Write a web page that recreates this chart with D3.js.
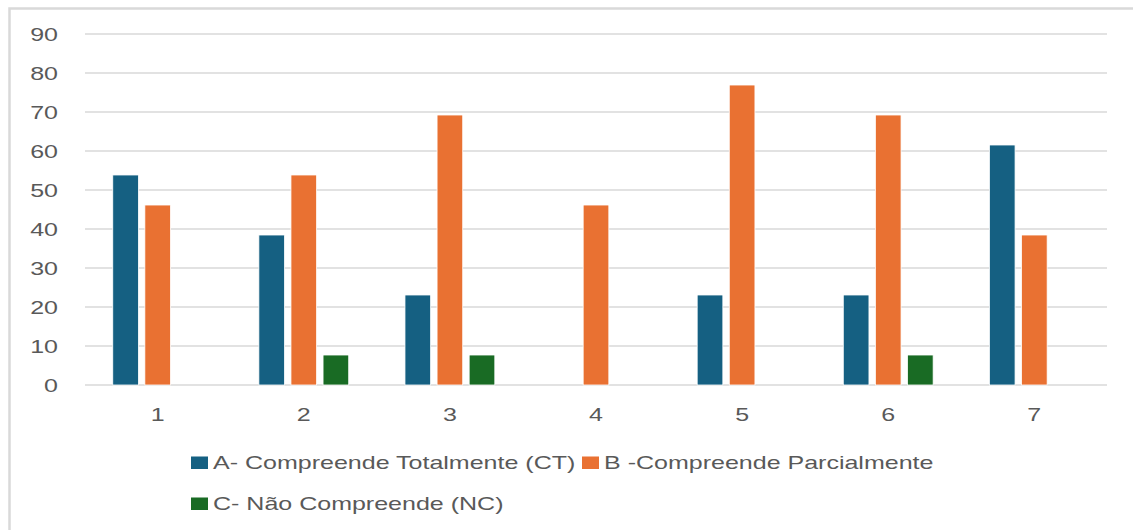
<!DOCTYPE html>
<html lang="pt">
<head>
<meta charset="UTF-8" />
<title>Compreensão por questão</title>
<script src="https://cdnjs.cloudflare.com/ajax/libs/d3/7.8.5/d3.min.js"></script>
<style>
  * { margin: 0; padding: 0; box-sizing: border-box; }
  body { background: #fff; width: 1133px; height: 530px; overflow: hidden; }
  svg { display: block; }
  text { font-family: 'Liberation Sans', Arial, sans-serif; fill: #595959; font-size: 17.5px; }
</style>
</head>
<body>
<svg id="chart" width="1133" height="530"></svg>
<script>
  // dados
  const categorias = ["1", "2", "3", "4", "5", "6", "7"];
  const serieA = [53.85, 38.46, 23.08, 0, 23.08, 23.08, 61.54];
  const serieB = [46.15, 53.85, 69.23, 46.15, 76.92, 69.23, 38.46];
  const serieC = [0, 7.69, 7.69, 0, 0, 7.69, 0];
  const nomes = ["A- Compreende Totalmente (CT)", "B -Compreende Parcialmente", "C- Não Compreende (NC)"];
  const cores = ["#156082", "#E97132", "#196B24"];
  const yTicks = [0, 10, 20, 30, 40, 50, 60, 70, 80, 90];

  // a imagem original está esticada na horizontal
  const SX = 1.43;

  const svg = d3.select("#chart");

  // moldura
  svg.append("rect")
    .attr("x", 9.5).attr("y", 8.5)
    .attr("width", 1140).attr("height", 540)
    .attr("fill", "#fff")
    .attr("stroke", "#d9d9d9").attr("stroke-width", 2.5);

  const x0 = d3.scaleBand().domain(categorias).range([85, 1107]).paddingInner(0.385).paddingOuter(0.19);
  const x1 = d3.scaleBand().domain([0, 1, 2]).range([0, x0.bandwidth()]).paddingInner(0.2);
  const y = d3.scaleLinear().domain([0, 90]).range([385, 34]);

  // grelha
  svg.append("g").selectAll("line")
    .data(yTicks)
    .join("line")
    .attr("x1", 85).attr("x2", 1107)
    .attr("y1", d => y(d)).attr("y2", d => y(d))
    .attr("stroke", "#d9d9d9").attr("stroke-width", 1.5);

  svg.append("g").selectAll("text")
    .data(yTicks)
    .join("text")
    .attr("transform", d => `translate(58,${y(d) + 6.5}) scale(${SX},1)`)
    .attr("text-anchor", "end")
    .text(d => d);

  // barras
  const series = [serieA, serieB, serieC];
  const grupos = svg.append("g").selectAll("g")
    .data(categorias)
    .join("g")
    .attr("transform", d => `translate(${x0(d)},0)`);

  grupos.selectAll("rect")
    .data((d, i) => series.map((s, k) => ({ k: k, v: s[i] })).filter(e => e.v > 0))
    .join("rect")
    .attr("x", d => x1(d.k))
    .attr("width", x1.bandwidth())
    .attr("y", d => y(d.v))
    .attr("height", d => y(0) - y(d.v))
    .attr("fill", d => cores[d.k])
    .attr("stroke", "#fff").attr("stroke-width", 0.8);

  // eixo x
  svg.append("g").selectAll("text")
    .data(categorias)
    .join("text")
    .attr("transform", d => `translate(${x0(d) + x0.bandwidth() / 2},421) scale(${SX},1)`)
    .attr("text-anchor", "middle")
    .text(d => d);

  // legenda
  const legPos = [[191, 463], [582, 463], [191, 504]];
  const leg = svg.append("g").selectAll("g")
    .data(nomes)
    .join("g")
    .attr("transform", (d, i) => `translate(${legPos[i][0]},${legPos[i][1]})`);
  leg.append("rect")
    .attr("x", 0).attr("y", -6.5).attr("width", 17).attr("height", 12.5)
    .attr("fill", (d, i) => cores[i]);
  leg.append("text")
    .attr("transform", `translate(22,6.3) scale(${SX},1)`)
    .text(d => d);
</script>
</body>
</html>
